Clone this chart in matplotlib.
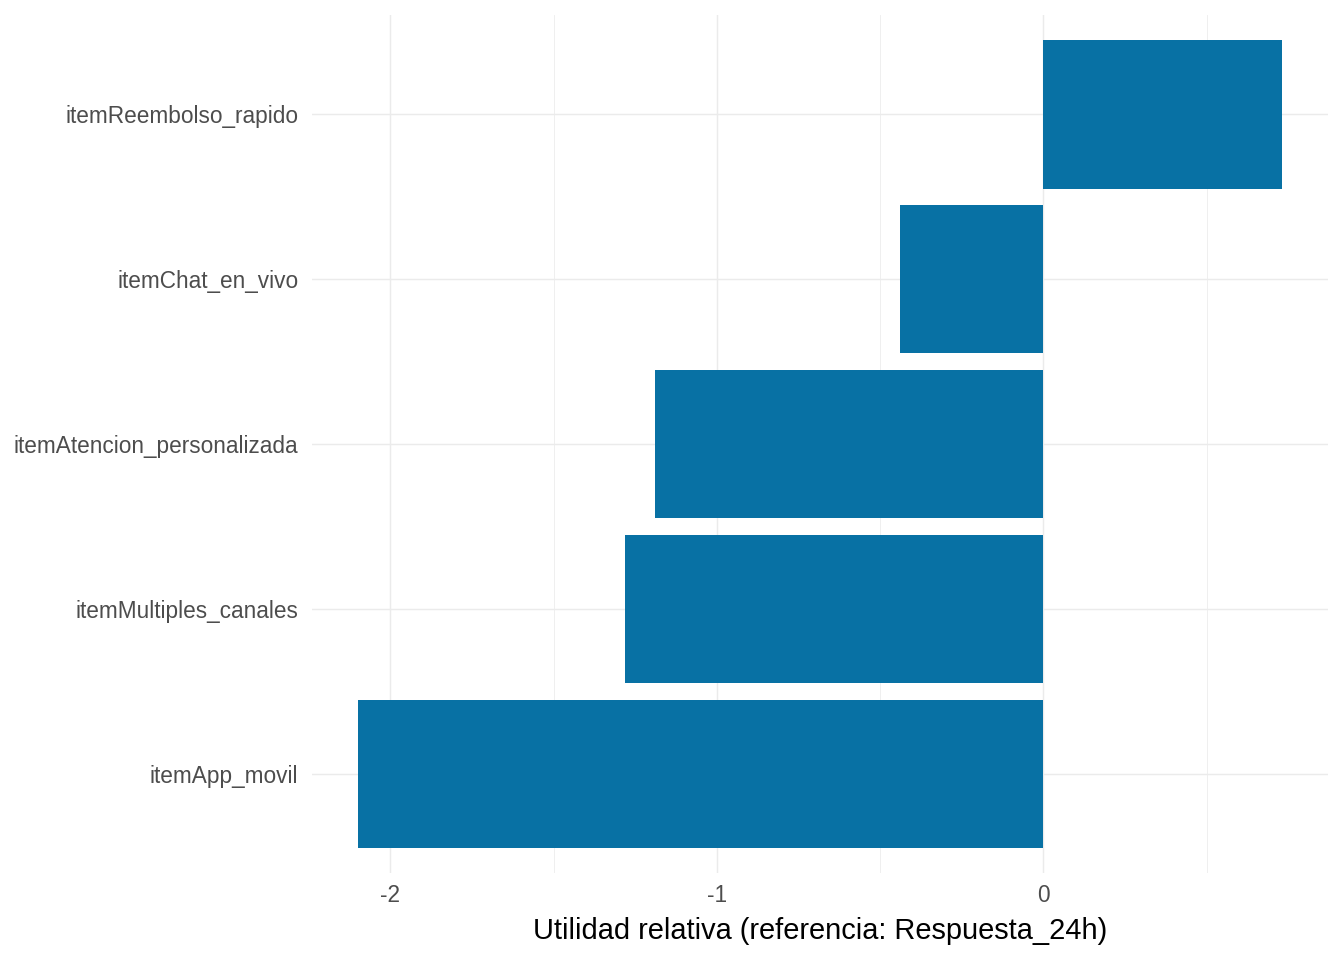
import matplotlib
matplotlib.use("Agg")
import matplotlib.pyplot as plt
import numpy as np

plt.rcParams["font.family"] = ["Liberation Sans", "DejaVu Sans"]

# Utilidades relativas por atributo (referencia: Respuesta_24h)
items = ["itemApp_movil", "itemMultiples_canales", "itemAtencion_personalizada",
         "itemChat_en_vivo", "itemReembolso_rapido"]
utilidad = [-2.10, -1.28, -1.19, -0.44, 0.73]

x_ticks = [-2, -1, 0]
x_minor = [-1.5, -0.5, 0.5]

fig = plt.figure(figsize=(7, 5), dpi=192)
ax = fig.add_axes([0.2318, 0.0906, 0.988 - 0.2318, 0.984 - 0.0906])

pos = np.arange(1, len(items) + 1)
ax.barh(pos, utilidad, height=0.9, color="#0871A4", zorder=3)

lo, hi = min(utilidad + [0]), max(utilidad + [0])
pad = (hi - lo) * 0.05
ax.set_xlim(lo - pad, hi + pad)
ax.set_ylim(0.4, len(items) + 0.6)

ax.set_xticks(x_ticks)
ax.set_xticklabels([str(t) for t in x_ticks])
ax.set_xticks(x_minor, minor=True)
ax.set_yticks(pos)
ax.set_yticklabels(items)

ax.grid(True, which="major", color="#EBEBEB", linewidth=0.55, zorder=0)
ax.grid(True, which="minor", axis="x", color="#EBEBEB", linewidth=0.3, zorder=0)
for s in ax.spines.values():
    s.set_visible(False)
ax.tick_params(axis="both", which="both", length=0, labelsize=8.5, labelcolor="#4D4D4D")
ax.tick_params(axis="x", pad=4)
ax.tick_params(axis="y", pad=5)

ax.set_xlabel("Utilidad relativa (referencia: Respuesta_24h)", fontsize=10.9, color="black", labelpad=4)

fig.savefig("out.png", dpi=192)
